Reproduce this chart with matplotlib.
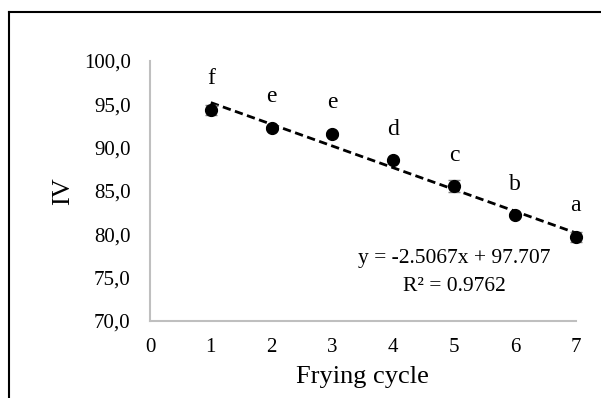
import matplotlib.pyplot as plt
import matplotlib.lines as mlines
import numpy as np

# frying cycles and iodine value readings
cycles = [1, 2, 3, 4, 5, 6, 7]
iv = [94.35, 92.25, 91.6, 88.55, 85.55, 82.2, 79.7]
iv_err = [0.6, 0.2, 0.2, 0.2, 0.7, 0.2, 0.6]
letters = ["f", "e", "e", "d", "c", "b", "a"]

# fitted trendline from the original chart
slope = -2.5067
intercept = 97.707
r2 = 0.9762

yticks = [70, 75, 80, 85, 90, 95, 100]
xticks = [0, 1, 2, 3, 4, 5, 6, 7]

plt.rcParams['font.family'] = ['Liberation Serif', 'DejaVu Serif']

fig = plt.figure(figsize=(6.01, 3.98), dpi=100)
ax = fig.add_axes([0.2496, 0.1935, 0.7085, 0.6532])

# trendline
xs = np.array([cycles[0], cycles[-1]])
ax.plot(xs, slope * xs + intercept, color='black', linestyle=(0, (3, 1.6)),
        linewidth=2, zorder=2, clip_on=False)

ax.errorbar(cycles, iv, yerr=iv_err, fmt='o', color='black', markersize=8.5,
            ecolor='#7f7f7f', elinewidth=1, capsize=4, capthick=1,
            zorder=3, clip_on=False)

for x, y, lab in zip(cycles, iv, letters):
    ax.text(x, y + 3.6, lab, ha='center', va='center', fontsize=17)

ax.text(5.0, 77.2, f"y = {slope}x + {intercept}", ha='center', va='center',
        fontsize=15.5)
ax.text(5.0, 74.0, f"R² = {r2}", ha='center', va='center', fontsize=15.5)

ax.set_xlim(0, 7)
ax.set_ylim(70, 100)
ax.set_xticks(xticks)
ax.set_yticks(yticks)
ax.set_yticklabels([f"{t:.1f}".replace('.', ',') for t in yticks])
ax.tick_params(length=0, labelsize=15)
ax.tick_params(axis='x', pad=12)
ax.tick_params(axis='y', pad=14)

for side in ['top', 'right']:
    ax.spines[side].set_visible(False)
for side in ['left', 'bottom']:
    ax.spines[side].set_color('#bfbfbf')
    ax.spines[side].set_linewidth(1.5)

ax.set_xlabel("Frying cycle", fontsize=19, labelpad=7)
ax.set_ylabel("IV", fontsize=19, labelpad=7)

# outer frame (left and top edges only visible in the crop)
fig.add_artist(mlines.Line2D([9 / 601, 9 / 601], [0, 1 - 12 / 398],
                             color='black', linewidth=1.5))
fig.add_artist(mlines.Line2D([9 / 601, 1], [1 - 12 / 398, 1 - 12 / 398],
                             color='black', linewidth=1.5))

fig.savefig("out.png", dpi=100)
